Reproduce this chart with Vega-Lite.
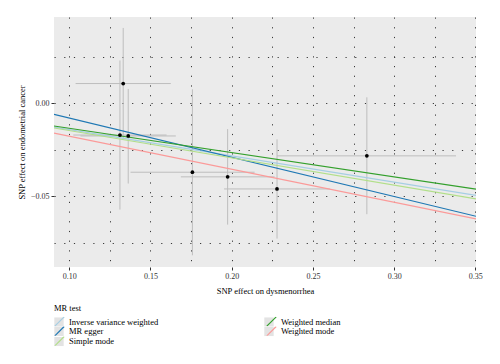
{
  "$schema": "https://vega.github.io/schema/vega-lite/v6.json",
  "width": 422,
  "height": 250,
  "autosize": {"type": "none"},
  "padding": {"left": 54, "top": 17, "right": 24, "bottom": 97},
  "background": "white",
  "config": {
    "font": "Liberation Serif",
    "view": {"fill": "#EBEBEB", "stroke": null},
    "axis": {
      "domain": false,
      "gridColor": "#3a3a3a",
      "gridDash": [1.2, 8.5],
      "gridWidth": 1,
      "tickColor": "#333333",
      "tickSize": 3,
      "labelFont": "Liberation Serif",
      "labelFontSize": 8,
      "labelColor": "#333333",
      "titleFont": "Liberation Serif",
      "titleFontSize": 8.5,
      "titleFontWeight": "normal",
      "titleColor": "#000000"
    },
    "legend": {
      "titleFont": "Liberation Serif",
      "labelFont": "Liberation Serif",
      "titleFontSize": 8.5,
      "titleFontWeight": "normal",
      "labelFontSize": 8.5,
      "labelColor": "#000000"
    }
  },
  "datasets": {
    "snps": [
      {"x": 0.1332, "y": 0.0106, "xlo": 0.1039, "xhi": 0.1625, "ylo": -0.0193, "yhi": 0.0405},
      {"x": 0.1312, "y": -0.0171, "xlo": 0.1025, "xhi": 0.1599, "ylo": -0.0572, "yhi": 0.0230},
      {"x": 0.1363, "y": -0.0176, "xlo": 0.1069, "xhi": 0.1656, "ylo": -0.0432, "yhi": 0.0077},
      {"x": 0.1758, "y": -0.0371, "xlo": 0.1377, "xhi": 0.2141, "ylo": -0.0818, "yhi": 0.0075},
      {"x": 0.1975, "y": -0.0396, "xlo": 0.1687, "xhi": 0.2264, "ylo": -0.0653, "yhi": -0.0139},
      {"x": 0.2279, "y": -0.0461, "xlo": 0.1953, "xhi": 0.2604, "ylo": -0.0728, "yhi": -0.0194},
      {"x": 0.2832, "y": -0.0283, "xlo": 0.2279, "xhi": 0.3381, "ylo": -0.0597, "yhi": 0.0032}
    ],
    "fits": [
      {"method": "Inverse variance weighted", "x": 0.0906, "y": -0.01283},
      {"method": "Inverse variance weighted", "x": 0.3504, "y": -0.04962},
      {"method": "MR egger", "x": 0.0906, "y": -0.00593},
      {"method": "MR egger", "x": 0.3504, "y": -0.0608},
      {"method": "Simple mode", "x": 0.0906, "y": -0.01331},
      {"method": "Simple mode", "x": 0.3504, "y": -0.05147},
      {"method": "Weighted median", "x": 0.0906, "y": -0.01224},
      {"method": "Weighted median", "x": 0.3504, "y": -0.04622},
      {"method": "Weighted mode", "x": 0.0906, "y": -0.0161},
      {"method": "Weighted mode", "x": 0.3504, "y": -0.06224}
    ]
  },
  "layer": [
    {
      "data": {"name": "fits"},
      "mark": {"type": "square", "opacity": 0, "size": 1},
      "encoding": {
        "x": {
          "field": "x", "type": "quantitative",
          "scale": {"domain": [0.0906, 0.3504], "nice": false, "zero": false},
          "axis": {
            "title": "SNP effect on dysmenorrhea",
            "values": [0.1, 0.125, 0.15, 0.175, 0.2, 0.225, 0.25, 0.275, 0.3, 0.325, 0.35],
            "labelExpr": "abs(datum.value*20 - round(datum.value*20)) < 0.001 ? format(datum.value, '.2f') : ''",
            "tickOpacity": {"condition": {"test": "abs(datum.value*20 - round(datum.value*20)) < 0.001", "value": 1}, "value": 0},
            "labelPadding": 2,
            "titlePadding": 6,
            "labelFlush": false
          }
        },
        "y": {
          "field": "y", "type": "quantitative",
          "scale": {"domain": [-0.0881, 0.0464], "nice": false, "zero": false},
          "axis": {
            "title": "SNP effect on endometrial cancer",
            "values": [0.025, 0, -0.025, -0.05, -0.075],
            "labelExpr": "abs(datum.value*20 - round(datum.value*20)) < 0.001 ? format(datum.value, '.2f') : ''",
            "tickOpacity": {"condition": {"test": "abs(datum.value*20 - round(datum.value*20)) < 0.001", "value": 1}, "value": 0},
            "labelPadding": 2,
            "titlePadding": 4,
            "labelFlush": false
          }
        },
        "fill": {
          "field": "method", "type": "nominal",
          "scale": {"range": ["#E3E3E3", "#E3E3E3", "#E3E3E3", "#E3E3E3", "#E3E3E3"]},
          "legend": {
            "title": null,
            "labelExpr": "''",
            "orient": "none",
            "legendX": 0,
            "legendY": 300,
            "columns": 2,
            "columnPadding": 196,
            "rowPadding": 0,
            "clipHeight": 9.3,
            "symbolType": "square",
            "symbolSize": 88,
            "symbolOpacity": 1,
            "symbolStrokeWidth": 0,
            "labelOffset": 4,
            "labelLimit": 200
          }
        }
      }
    },
    {
      "data": {"name": "snps"},
      "mark": {"type": "rule", "color": "#BDBDBD", "strokeWidth": 1, "clip": true},
      "encoding": {
        "x": {"field": "xlo", "type": "quantitative"},
        "x2": {"field": "xhi"},
        "y": {"field": "y", "type": "quantitative"}
      }
    },
    {
      "data": {"name": "snps"},
      "mark": {"type": "rule", "color": "#BDBDBD", "strokeWidth": 1, "clip": true},
      "encoding": {
        "x": {"field": "x", "type": "quantitative"},
        "y": {"field": "ylo", "type": "quantitative"},
        "y2": {"field": "yhi"}
      }
    },
    {
      "data": {"name": "fits"},
      "mark": {"type": "line", "strokeWidth": 1.2, "clip": true},
      "encoding": {
        "x": {"field": "x", "type": "quantitative"},
        "y": {"field": "y", "type": "quantitative"},
        "stroke": {
          "field": "method", "type": "nominal",
          "scale": {
            "domain": ["Inverse variance weighted", "MR egger", "Simple mode", "Weighted median", "Weighted mode"],
            "range": ["#A6CEE3", "#1F78B4", "#B2DF8A", "#33A02C", "#FB9A99"]
          },
          "legend": {
            "title": "MR test",
            "orient": "none",
            "legendX": 0,
            "legendY": 287,
            "columns": 2,
            "columnPadding": 107,
            "rowPadding": 0,
            "clipHeight": 9.3,
            "symbolType": "M-1,1L1,-1",
            "symbolSize": 88,
            "symbolStrokeWidth": 1.2,
            "labelOffset": 4,
            "titlePadding": 4,
            "labelLimit": 200
          }
        }
      }
    },
    {
      "data": {"name": "snps"},
      "mark": {"type": "circle", "color": "#000000", "opacity": 1, "size": 14},
      "encoding": {
        "x": {"field": "x", "type": "quantitative"},
        "y": {"field": "y", "type": "quantitative"}
      }
    }
  ]
}
